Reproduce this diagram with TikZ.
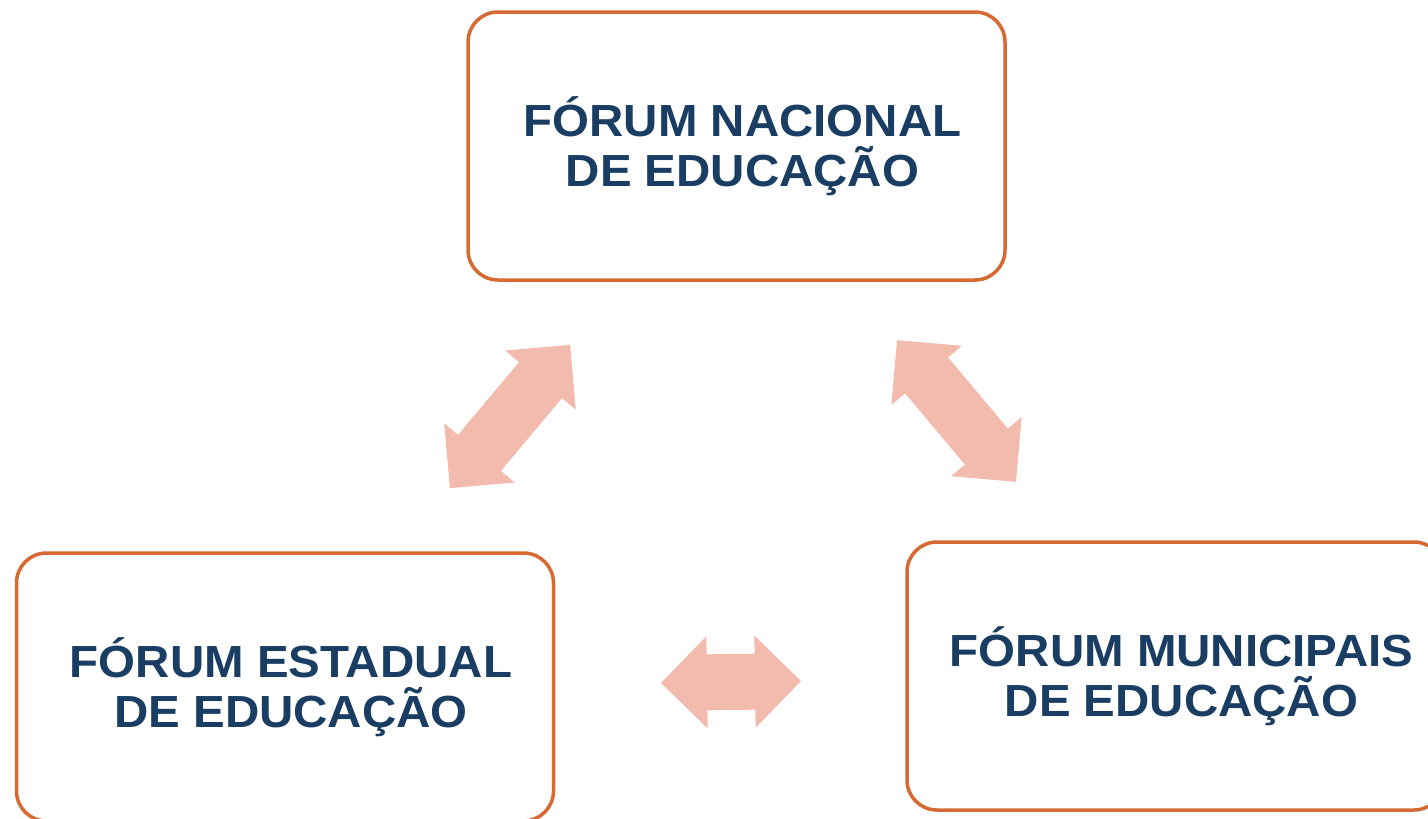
\documentclass[tikz,border=0pt]{standalone}
\usepackage{fontspec}
\setmainfont{Liberation Sans}
\newfontfamily\boxfont[FakeStretch=1.055]{Liberation Sans}
\definecolor{boxline}{HTML}{D66A32}
\definecolor{navy}{HTML}{1A3D63}
\definecolor{arrowpink}{HTML}{F2BBAD}
\newcommand{\sh}{\hspace*{12pt}}
\tikzset{
  forumbox/.style={draw=boxline, line width=3.5pt, rounded corners=30pt,
    minimum width=537pt, minimum height=268pt, fill=white,
    align=center, text=navy, inner sep=0pt,
    font=\boxfont\fontsize{45pt}{50pt}\selectfont\bfseries},
  arrowfill/.style={fill=arrowpink}
}
\newcommand{\dblarrow}[5]{% name, center x, center y, angle, length
  \begin{scope}[shift={(#2,#3)},rotate=#4]
    \coordinate (#1) at (0,0);
    \fill[arrowfill] (-#5/2,0) -- ++(46,46) -- ++(0,-18) -- (#5/2-46,28)
      -- ++(0,18) -- (#5/2,0) -- (#5/2-46,-46) -- ++(0,18)
      -- (-#5/2+46,-28) -- ++(0,-18) -- cycle;
  \end{scope}}
\begin{document}
\begin{tikzpicture}[x=1pt,y=1pt]
  \useasboundingbox (0,0) rectangle (1428,-819);
  \clip (0,0) rectangle (1428,-819);
  \fill[white] (0,0) rectangle (1428,-819);
  \node[forumbox] (nacional) at (736.5,-146) {\sh FÓRUM NACIONAL\\\sh DE EDUCAÇÃO};
  \node[forumbox] (estadual) at (285,-687) {\sh FÓRUM ESTADUAL\\\sh DE EDUCAÇÃO};
  \node[forumbox] (municipal) at (1175.5,-676) {\sh FÓRUM MUNICIPAIS\\\sh DE EDUCAÇÃO};
  \dblarrow{arrowNE}{510}{-416.5}{50}{187}
  \dblarrow{arrowNM}{956.5}{-411}{-50}{185}
  \dblarrow{arrowEM}{731}{-682}{0.8}{140}
\end{tikzpicture}
\end{document}
